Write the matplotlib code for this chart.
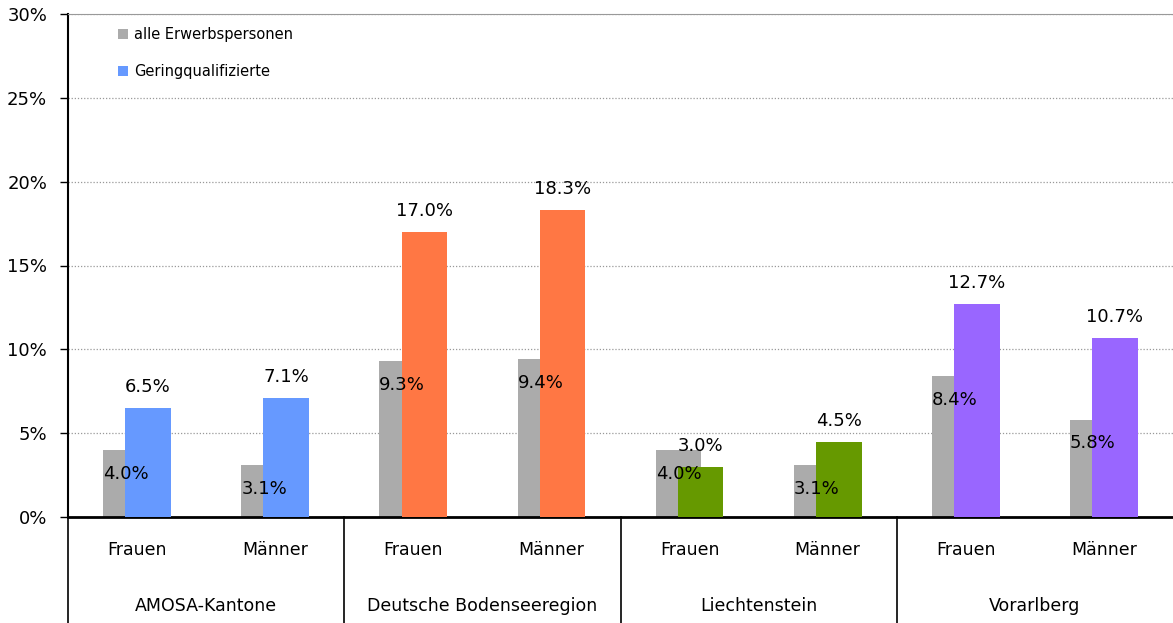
import numpy as np
import matplotlib.pyplot as plt

regions = ['AMOSA-Kantone', 'Deutsche Bodenseeregion', 'Liechtenstein', 'Vorarlberg']
sexes = ['Frauen', 'Männer']
alle = [4.0, 3.1, 9.3, 9.4, 4.0, 3.1, 8.4, 5.8]
gering = [6.5, 7.1, 17.0, 18.3, 3.0, 4.5, 12.7, 10.7]
region_colors = ['#6699FF', '#FF7744', '#669900', '#9966FF']

fig = plt.figure(figsize=(11.73, 6.23), dpi=100)
ax = fig.add_axes([68 / 1173, (623 - 517) / 623, (1173 - 68) / 1173, 503 / 623])

x = np.arange(len(alle))
w = 0.33
off = 0.08
cols = [c for c in region_colors for _ in range(2)]
ax.bar(x - off, alle, width=w, color='#ABABAB', zorder=2)
ax.bar(x + off, gering, width=w, color=cols, zorder=3)

for i in range(len(alle)):
    ax.annotate('%.1f%%' % alle[i], (x[i] - off, alle[i]), xytext=(0, -17),
                textcoords='offset points', ha='center', va='center', fontsize=13, zorder=5)
    ax.annotate('%.1f%%' % gering[i], (x[i] + off, gering[i]), xytext=(0, 15),
                textcoords='offset points', ha='center', va='center', fontsize=13, zorder=5)

ax.set_xlim(-0.5, 7.5)
ax.set_ylim(0, 30)
ax.set_yticks(range(0, 31, 5))
ax.set_yticklabels(['%d%%' % v for v in range(0, 31, 5)], fontsize=13)
ax.tick_params(axis='y', direction='out', length=6, width=1, pad=9)
ax.set_xticks([])
ax.grid(axis='y', linestyle=(0, (1, 1.5)), color='#999999', linewidth=0.9, zorder=0)

ax.spines['right'].set_visible(False)
ax.spines['top'].set_color('#999999')
ax.spines['left'].set_linewidth(1.5)
ax.spines['bottom'].set_linewidth(2)

# category axis below
tr = ax.get_xaxis_transform()
for i in range(len(alle)):
    ax.text(x[i], -0.066, sexes[i % 2], transform=tr, ha='center', va='center', fontsize=12.5)
for j, r in enumerate(regions):
    ax.text(2 * j + 0.5, -0.177, r, transform=tr, ha='center', va='center', fontsize=12.5)
for sep in [-0.5, 1.5, 3.5, 5.5]:
    ax.plot([sep, sep], [0, -0.22], transform=tr, color='black', linewidth=1.2, clip_on=False)

# legend
ax.bar([0], [0], color='#ABABAB', label='alle Erwerbspersonen')
ax.bar([0], [0], color='#6699FF', label='Geringqualifizierte')
ax.legend(loc='upper left', bbox_to_anchor=(0.033, 1.0), frameon=False, fontsize=10.5,
          handlelength=0.7, handleheight=0.7, handletextpad=0.4, labelspacing=1.5)

plt.savefig('out.png', dpi=100)
